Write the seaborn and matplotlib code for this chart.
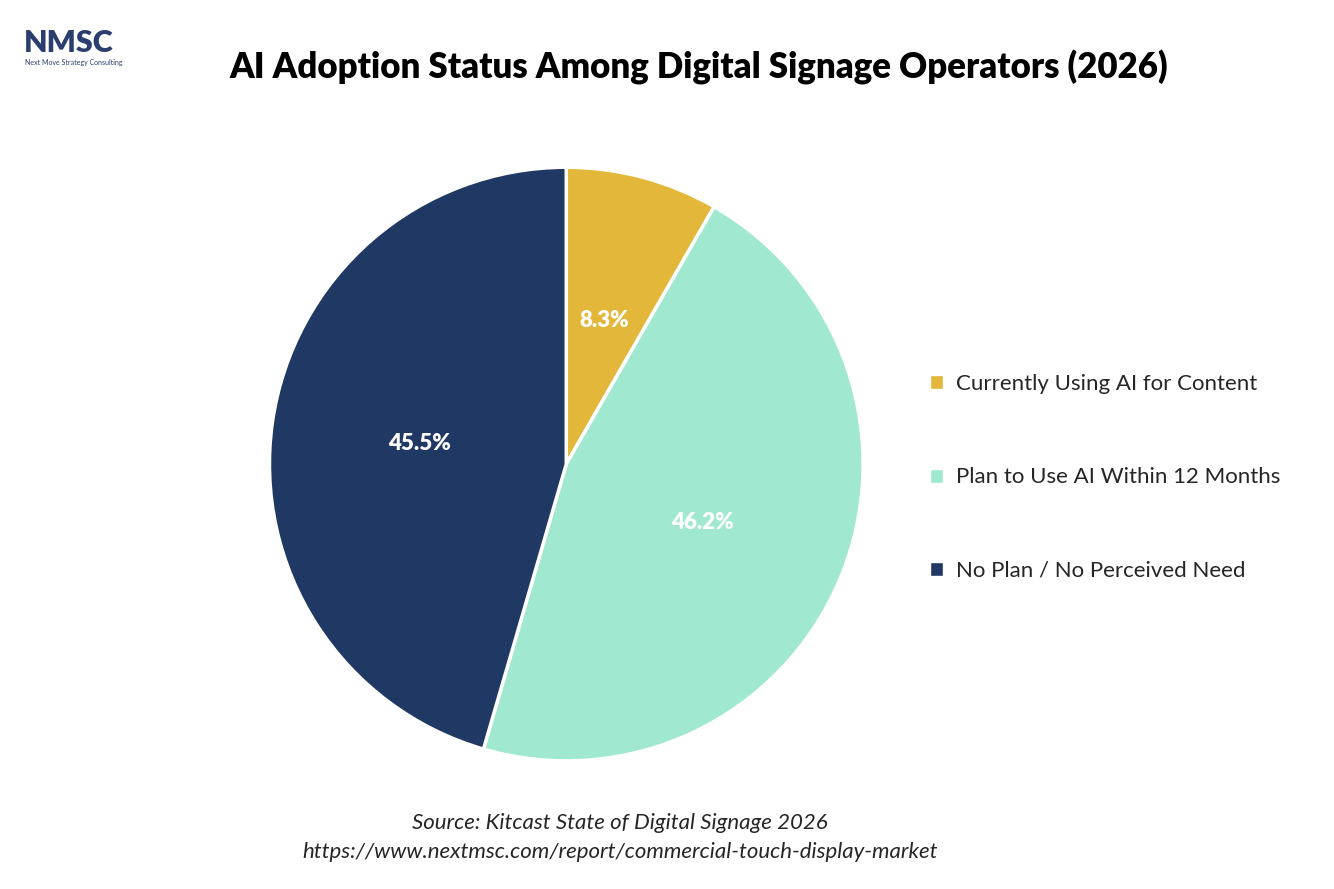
import matplotlib
matplotlib.use("Agg")
import matplotlib.pyplot as plt
import seaborn as sns
from matplotlib.patches import Patch

categories = ["Currently Using AI for Content", "Plan to Use AI Within 12 Months", "No Plan / No Perceived Need"]
shares = [8.3, 46.2, 45.5]
colors = ["#E3B83A", "#A0E9D0", "#203864"]

sns.set_style("white")
plt.rcParams['font.family'] = ['Lato', 'DejaVu Sans']

fig = plt.figure(figsize=(13.34, 8.89), dpi=100)
ax = fig.add_axes([0.202, 0.144, 0.445, 0.668])

wedges, texts, autotexts = ax.pie(shares, colors=colors, startangle=90, counterclock=False,
                                  autopct='%1.1f%%', pctdistance=0.5,
                                  wedgeprops=dict(edgecolor='white', linewidth=2.5),
                                  textprops=dict(color='white', fontsize=16, fontweight='heavy'))
ax.set_xlim(-1, 1)
ax.set_ylim(-1, 1)
ax.set_aspect('equal')

handles = [Patch(facecolor=c, label=l) for c, l in zip(colors, categories)]
fig.legend(handles=handles, loc='center left', bbox_to_anchor=(0.682, 0.463), frameon=False,
           fontsize=16, labelspacing=3.3, handlelength=0.6, handleheight=0.6, handletextpad=0.6)

fig.text(0.524, 0.924, "AI Adoption Status Among Digital Signage Operators (2026)",
         ha='center', va='center', fontsize=25, fontweight='heavy', color='black')
fig.text(0.465, 0.074, "Source: Kitcast State of Digital Signage 2026", ha='center', va='center',
         fontsize=16, style='italic')
fig.text(0.465, 0.042, "https://www.nextmsc.com/report/commercial-touch-display-market", ha='center', va='center',
         fontsize=16, style='italic')

fig.text(0.018, 0.952, "NMSC", ha='left', va='center', fontsize=22, fontweight='heavy', color='#2B3F6E')
fig.text(0.019, 0.93, "Next Move Strategy Consulting", ha='left', va='center', fontsize=5, color='#2B3F6E')

fig.savefig("out.png", dpi=100)
